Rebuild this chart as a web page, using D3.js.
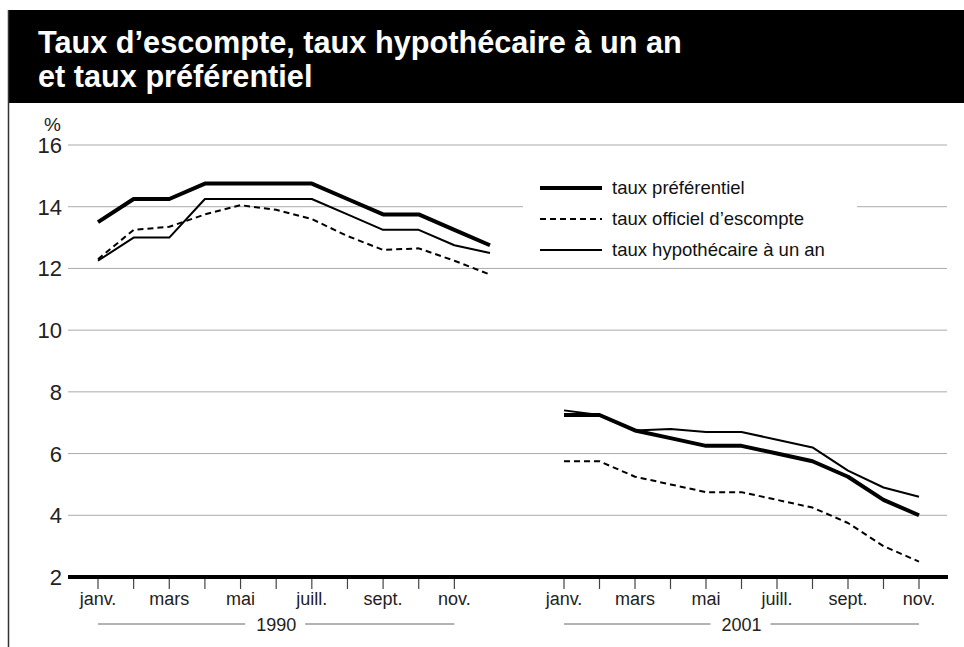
<!DOCTYPE html>
<html>
<head>
<meta charset="utf-8">
<script src="https://cdn.jsdelivr.net/npm/d3@7"></script>
<style>
  html, body { margin: 0; padding: 0; background: #fff; }
  svg { display: block; font-family: "Liberation Sans", Arial, sans-serif; }
</style>
</head>
<body>
<div id="chart"></div>
<script>
// données
const monthLabels = ["janv.", "", "mars", "", "mai", "", "juill.", "", "sept.", "", "nov."];
const yTicks = [2, 4, 6, 8, 10, 12, 14, 16];

// 1990 : janv. à déc.
const prime1990 = [13.5, 14.25, 14.25, 14.75, 14.75, 14.75, 14.75, 14.25, 13.75, 13.75, 13.25, 12.75];
const bank1990 = [12.3, 13.25, 13.35, 13.75, 14.05, 13.9, 13.6, 13.05, 12.6, 12.65, 12.25, 11.8];
const mortgage1990 = [12.25, 13.0, 13.0, 14.25, 14.25, 14.25, 14.25, 13.75, 13.25, 13.25, 12.75, 12.5];

// 2001 : janv. à nov.
const prime2001 = [7.25, 7.25, 6.75, 6.5, 6.25, 6.25, 6.0, 5.75, 5.25, 4.5, 4.0];
const bank2001 = [5.75, 5.75, 5.25, 5.0, 4.75, 4.75, 4.5, 4.25, 3.75, 3.0, 2.5];
const mortgage2001 = [7.4, 7.25, 6.75, 6.8, 6.7, 6.7, 6.45, 6.2, 5.45, 4.9, 4.6];

const legendItems = [
  { label: "taux préférentiel", width: 4, dash: null },
  { label: "taux officiel d’escompte", width: 2, dash: "6,4" },
  { label: "taux hypothécaire à un an", width: 2, dash: null }
];

const W = 964, H = 647;
const svg = d3.select("#chart").append("svg")
  .attr("width", W).attr("height", H);

// cadre et bandeau de titre
svg.append("rect").attr("x", 8).attr("y", 10).attr("width", W - 8).attr("height", 93).attr("fill", "#000");
svg.append("line").attr("x1", 8.5).attr("x2", 8.5).attr("y1", 10).attr("y2", H)
  .attr("stroke", "#333").attr("stroke-width", 1.5);

const title = svg.append("text").attr("fill", "#fff").attr("font-weight", "bold").attr("font-size", 30);
const t1 = title.append("tspan").attr("x", 38).attr("y", 53).text("Taux d’escompte, taux hypothécaire à un an");
title.append("tspan").attr("x", 38).attr("y", 87).text("et taux préférentiel");
// la première ligne se termine vers x = 682 dans l'original
const len = t1.node().getComputedTextLength();
title.attr("font-size", 30 * 644 / len);

// échelles
const y = d3.scaleLinear().domain([2, 16]).range([577, 145]);
const x1990 = d3.scaleLinear().domain([0, 11]).range([98, 490]);
const x2001 = d3.scaleLinear().domain([0, 10]).range([564, 919]);

// grille horizontale
svg.append("g").selectAll("line").data(yTicks.filter(d => d > 2)).join("line")
  .attr("x1", 68).attr("x2", 947)
  .attr("y1", d => y(d)).attr("y2", d => y(d))
  .attr("stroke", "#aaa").attr("stroke-width", 1);

svg.append("g").selectAll("text").data(yTicks).join("text")
  .attr("x", 62).attr("y", d => y(d) + 8)
  .attr("text-anchor", "end").attr("font-size", 22).attr("fill", "#222")
  .text(d => d);

svg.append("text").attr("x", 44).attr("y", 131).attr("font-size", 19).attr("fill", "#222").text("%");

// légende (fond blanc qui coupe la grille)
const legend = svg.append("g");
legend.append("rect").attr("x", 523).attr("y", 172).attr("width", 334).attr("height", 92).attr("fill", "#fff");
legendItems.forEach((it, i) => {
  const ly = 188 + i * 31;
  legend.append("line").attr("x1", 540).attr("x2", 602).attr("y1", ly).attr("y2", ly)
    .attr("stroke", "#000").attr("stroke-width", it.width)
    .attr("stroke-dasharray", it.dash);
  legend.append("text").attr("x", 612).attr("y", ly + 6).attr("font-size", 18.5).attr("fill", "#111")
    .text(it.label);
});

// séries
const series = [
  { x: x1990, vals: bank1990, width: 2, dash: "6,4" },
  { x: x1990, vals: mortgage1990, width: 2, dash: null },
  { x: x1990, vals: prime1990, width: 4, dash: null },
  { x: x2001, vals: bank2001, width: 2, dash: "6,4" },
  { x: x2001, vals: mortgage2001, width: 2, dash: null },
  { x: x2001, vals: prime2001, width: 4, dash: null }
];
series.forEach(s => {
  const line = d3.line().x((d, i) => s.x(i)).y(d => y(d));
  svg.append("path").datum(s.vals).attr("d", line)
    .attr("fill", "none").attr("stroke", "#000")
    .attr("stroke-width", s.width).attr("stroke-dasharray", s.dash)
    .attr("stroke-linejoin", "round");
});

// axe des x : ligne de base, graduations, mois et années
svg.append("line").attr("x1", 68).attr("x2", 948).attr("y1", y(2)).attr("y2", y(2))
  .attr("stroke", "#000").attr("stroke-width", 4);

[{ x: x1990, year: "1990" }, { x: x2001, year: "2001" }].forEach(p => {
  const g = svg.append("g");
  g.selectAll("line.tick").data(monthLabels).join("line").attr("class", "tick")
    .attr("x1", (d, i) => p.x(i)).attr("x2", (d, i) => p.x(i))
    .attr("y1", 579).attr("y2", 589)
    .attr("stroke", "#444").attr("stroke-width", 1.2);
  g.selectAll("text.month").data(monthLabels).join("text").attr("class", "month")
    .attr("x", (d, i) => p.x(i)).attr("y", 605)
    .attr("text-anchor", "middle").attr("font-size", 18).attr("fill", "#222")
    .text(d => d);
  const x0 = p.x(0), x1 = p.x(10), xm = (x0 + x1) / 2;
  g.append("text").attr("x", xm).attr("y", 631).attr("text-anchor", "middle")
    .attr("font-size", 18).attr("fill", "#222").text(p.year);
  g.append("line").attr("x1", x0).attr("x2", xm - 31).attr("y1", 624).attr("y2", 624)
    .attr("stroke", "#666").attr("stroke-width", 1);
  g.append("line").attr("x1", xm + 29).attr("x2", x1).attr("y1", 624).attr("y2", 624)
    .attr("stroke", "#666").attr("stroke-width", 1);
});
</script>
</body>
</html>
